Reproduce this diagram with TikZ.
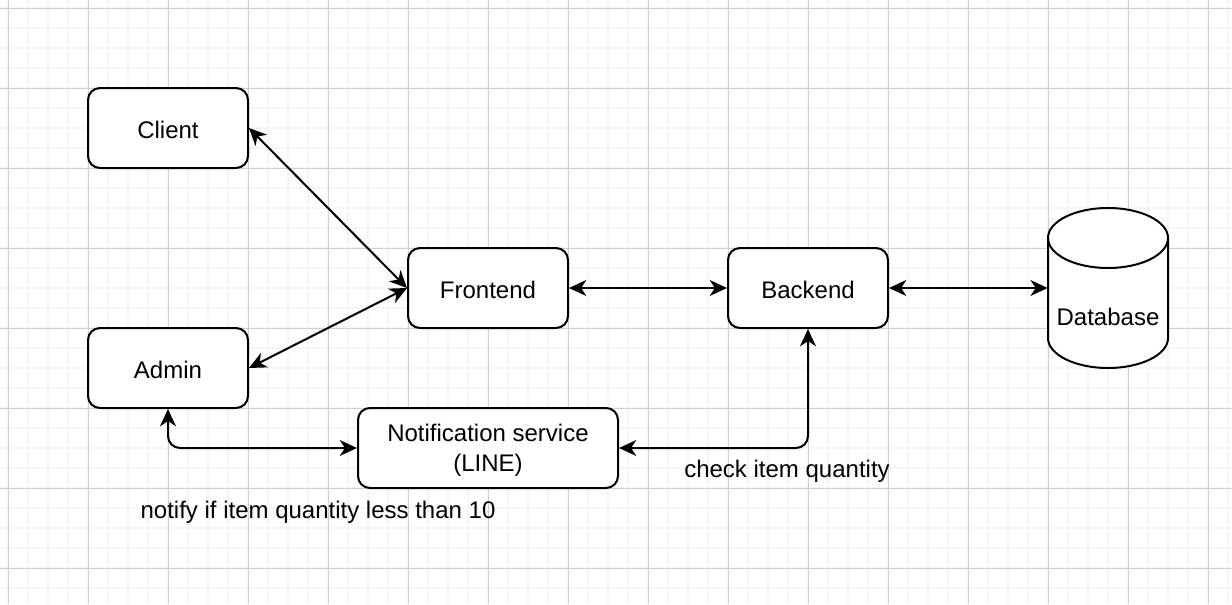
\documentclass[tikz,border=0pt]{standalone}
\usepackage{fontspec}
\setmainfont{Liberation Sans}
\usetikzlibrary{arrows.meta}
\begin{document}
\begin{tikzpicture}[x=0.75pt,y=-0.75pt,
  minorgrid/.style={draw=black!4,line width=1.4pt},
  majorgrid/.style={draw=black!19,line width=0.75pt},
  box/.style={draw=black,line width=1.5pt,rounded corners=9pt,fill=white,
    minimum width=120pt,minimum height=60pt,inner sep=2pt,align=center,
    font=\fontsize{18}{22.5}\selectfont},
  onebox/.style={box,text height=15.5pt,text depth=0pt},
  lbl/.style={font=\fontsize{18}{22.5}\selectfont,inner sep=0pt},
  tip/.tip={Stealth[length=13pt,width=12pt,inset=4pt]},
  conn/.style={line width=1.5pt,draw=black,tip-tip}
]
\useasboundingbox (0,0) rectangle (1232,604);
\fill[white] (0,0) rectangle (1232,604);
\foreach \g in {8,28,...,1228} \draw[minorgrid] (\g,0) -- (\g,604);
\foreach \g in {8,28,...,600} \draw[minorgrid] (0,\g) -- (1232,\g);
\foreach \g in {8,88,...,1228} \draw[majorgrid] (\g,0) -- (\g,604);
\foreach \g in {8,88,...,600} \draw[majorgrid] (0,\g) -- (1232,\g);

\node[onebox] (client) at (168,128) {Client};
\node[onebox] (admin) at (168,368) {Admin};
\node[onebox] (frontend) at (488,288) {Frontend};
\node[onebox] (backend) at (808,288) {Backend};
\node[box,minimum width=195pt] (notif) at (488,448) {\rule{0pt}{16.5pt}Notification service\\(LINE)};

% database cylinder
\node[minimum width=90pt,minimum height=120pt,inner sep=0pt] (db) at (1108,288) {};
\draw[line width=1.5pt,fill=white] (1048,238) -- (1048,338)
  arc[start angle=180,end angle=0,x radius=60,y radius=30] -- (1168,238)
  arc[start angle=0,end angle=-180,x radius=60,y radius=30] -- cycle;
\draw[line width=1.5pt] (1048,238) arc[start angle=180,end angle=0,x radius=60,y radius=30];
\node[lbl] (dblabel) at (1108,317) {Database};

\draw[conn] (client.east) -- (frontend.west);
\draw[conn] (admin.east) -- (frontend.west);
\draw[conn] (frontend.east) -- (backend.west);
\draw[conn] (backend.east) -- (db.west);
\draw[conn,rounded corners=9pt] (admin.south) |- (notif.west);
\draw[conn,rounded corners=9pt] (backend.south) |- (notif.east);

\node[lbl] (checklbl) at (787,471) {check item quantity};
\node[lbl] (notifylbl) at (318,512) {notify if item quantity less than 10};
\end{tikzpicture}
\end{document}
